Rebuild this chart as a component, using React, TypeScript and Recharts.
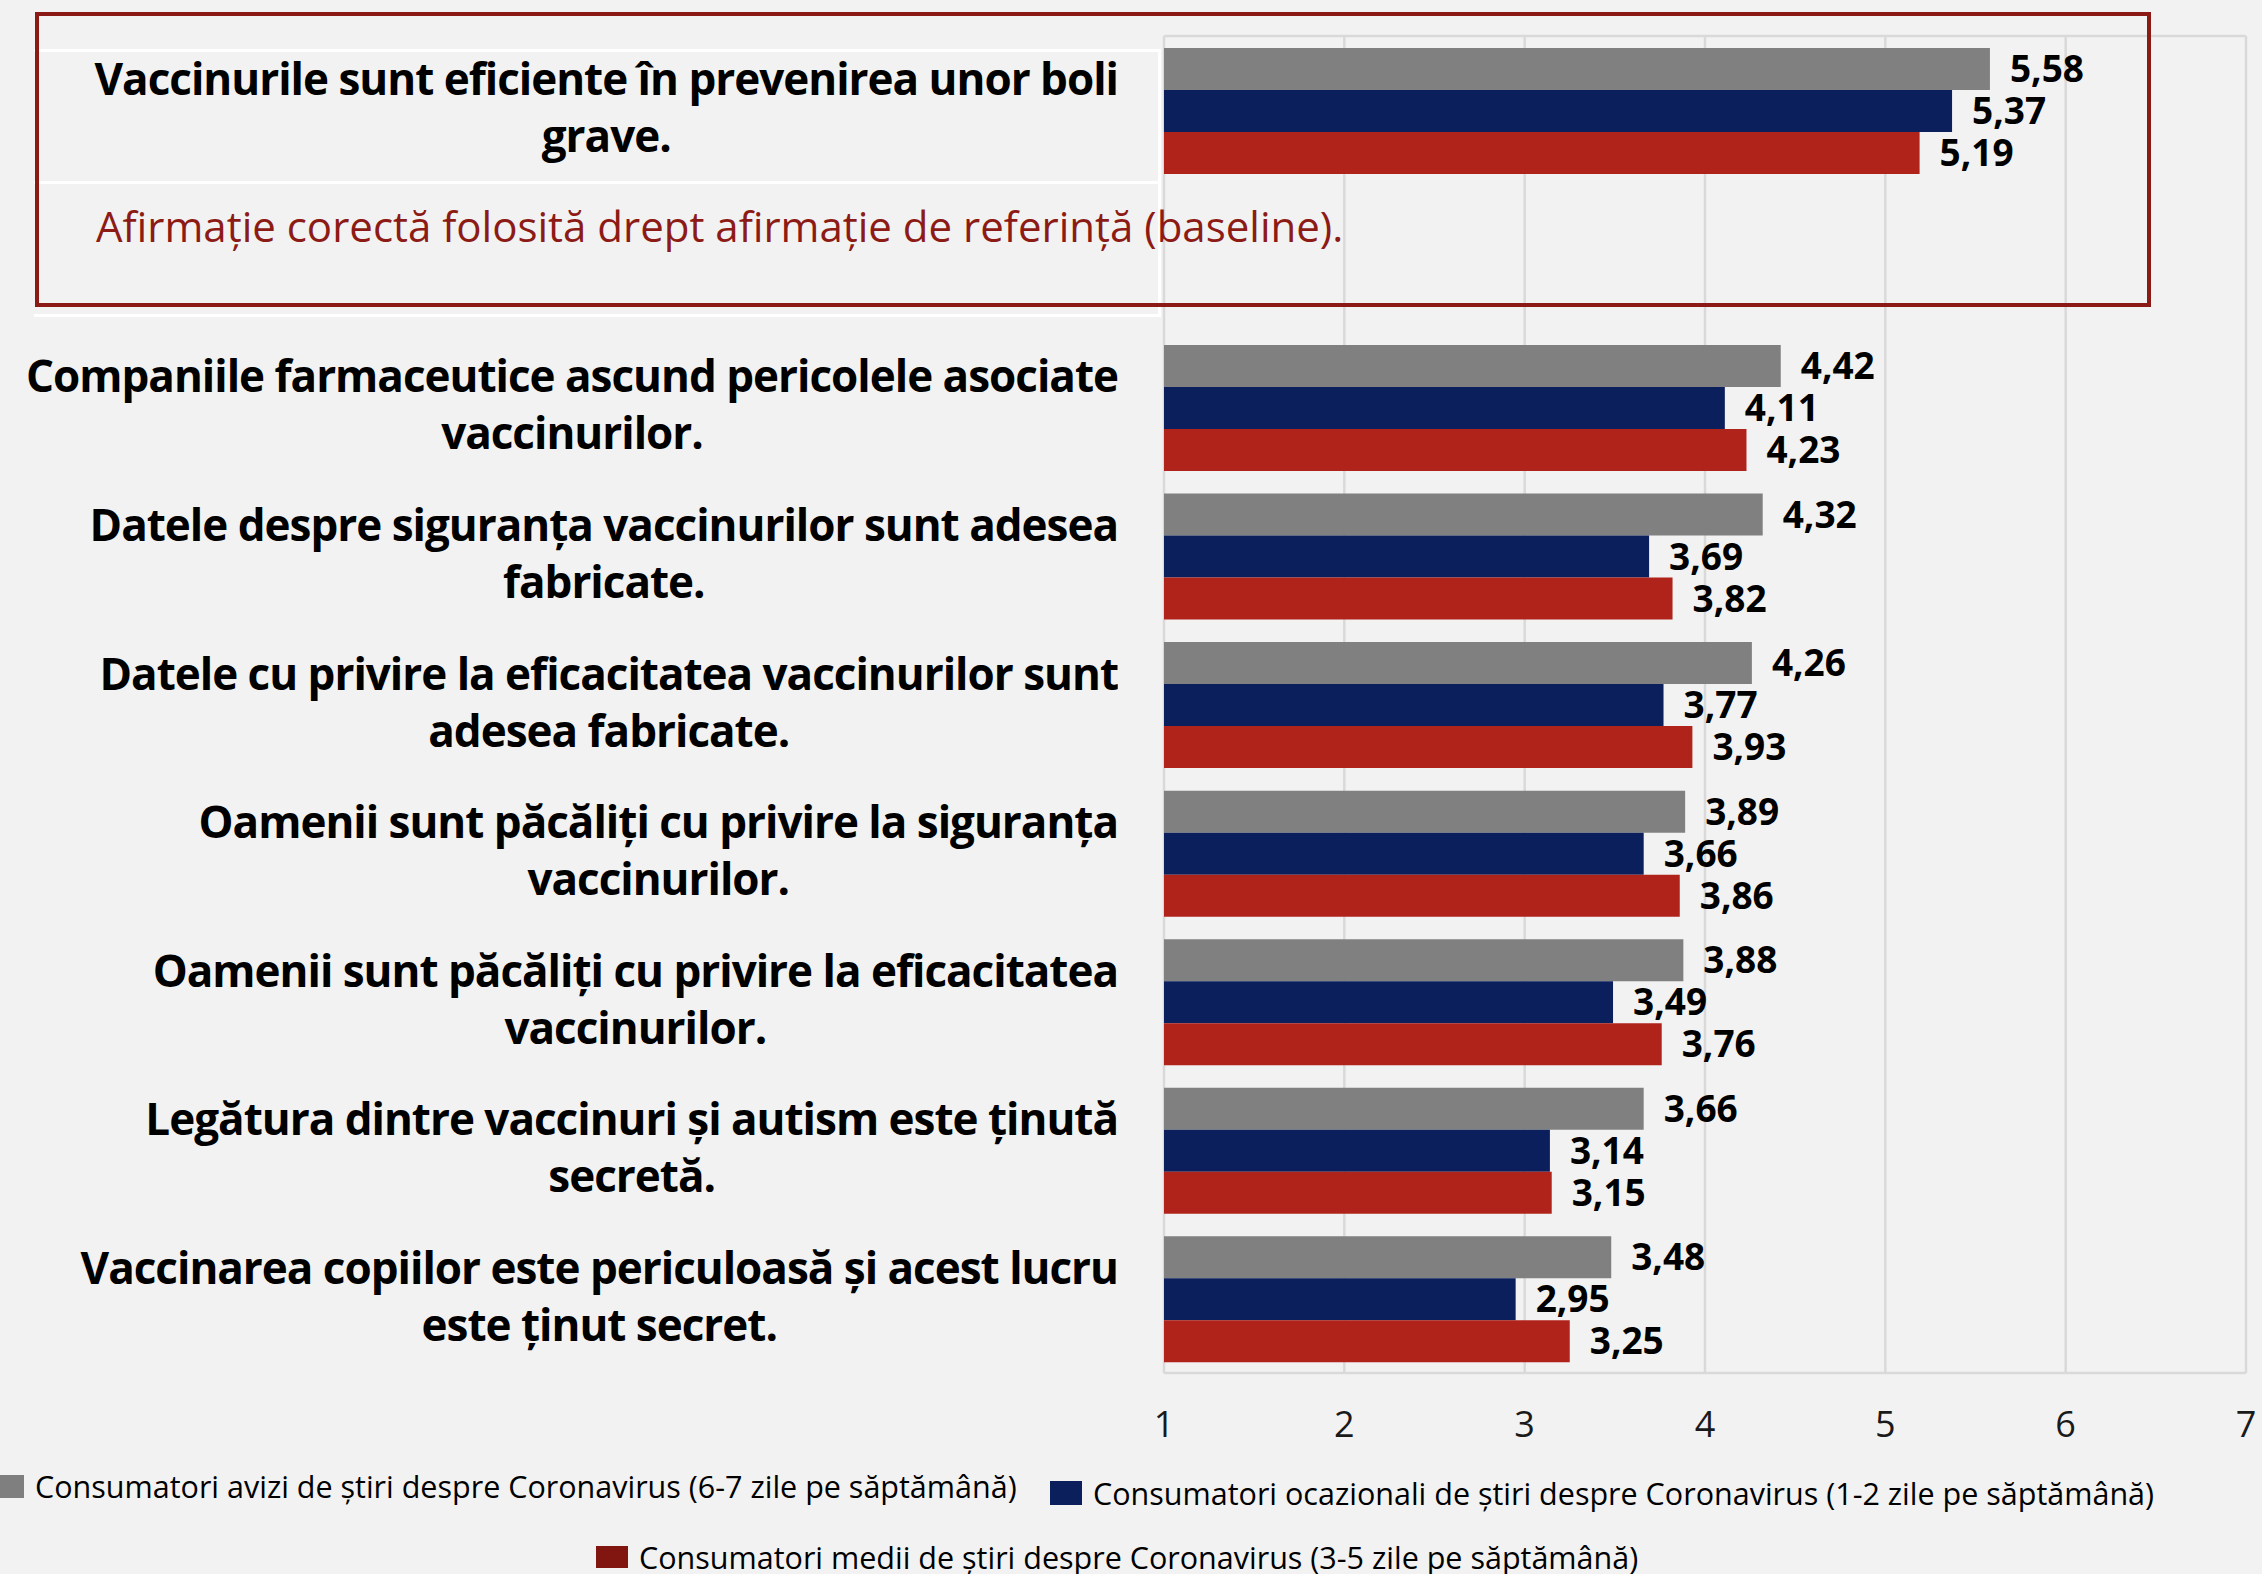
import React from 'react';
import { BarChart, Bar, XAxis, YAxis, CartesianGrid, LabelList } from 'recharts';

const categories: string[] = [
  'Vaccinurile sunt eficiente în prevenirea unor boli\ngrave.',
  '',
  'Companiile farmaceutice ascund pericolele asociate\nvaccinurilor.',
  'Datele despre siguranța vaccinurilor sunt adesea\nfabricate.',
  'Datele cu privire la eficacitatea vaccinurilor sunt\nadesea fabricate.',
  'Oamenii sunt păcăliți cu privire la siguranța\nvaccinurilor.',
  'Oamenii sunt păcăliți cu privire la eficacitatea\nvaccinurilor.',
  'Legătura dintre vaccinuri și autism este ținută\nsecretă.',
  'Vaccinarea copiilor este periculoasă și acest lucru\neste ținut secret.',
];
const baselineNote = 'Afirmație corectă folosită drept afirmație de referință (baseline).';

const avizi: (number | null)[] = [5.58, null, 4.42, 4.32, 4.26, 3.89, 3.88, 3.66, 3.48];
const ocazionali: (number | null)[] = [5.37, null, 4.11, 3.69, 3.77, 3.66, 3.49, 3.14, 2.95];
const medii: (number | null)[] = [5.19, null, 4.23, 3.82, 3.93, 3.86, 3.76, 3.15, 3.25];

const xTicks = [1, 2, 3, 4, 5, 6, 7];

const seriesNames = [
  'Consumatori avizi de știri despre Coronavirus (6-7 zile pe săptămână)',
  'Consumatori ocazionali de știri despre Coronavirus (1-2 zile pe săptămână)',
  'Consumatori medii de știri despre Coronavirus (3-5 zile pe săptămână)',
];
const barColors = ['#808080', '#0a1f5c', '#b0231a'];
const legendColors = ['#7f7f7f', '#0a1f5c', '#80160f'];

const data = categories.map((c, i) => ({
  key: 'c' + i,
  avizi: avizi[i],
  ocazionali: ocazionali[i],
  medii: medii[i],
}));

const FONT = '"Open Sans", sans-serif';

const fmt = (v: any) => (v == null ? '' : Number(v).toFixed(2).replace('.', ','));

const CategoryTick = (props: any) => {
  const { y } = props;
  const index = props.index ?? props.payload?.index ?? 0;
  if (index === 1) {
    return (
      <text x={96} y={y - 17} fill="#8c1b15" fontSize={42} fontFamily={FONT}>
        {baselineNote}
      </text>
    );
  }
  const label = categories[index];
  return (
    <foreignObject x={0} y={y - 73} width={1118} height={140}>
      <div
        style={{
          width: 1118,
          height: 140,
          display: 'flex',
          alignItems: 'center',
          justifyContent: 'flex-end',
        }}
      >
        <div
          style={{
            textAlign: 'center',
            whiteSpace: 'pre',
            fontFamily: FONT,
            fontWeight: 700,
            fontSize: 44,
            letterSpacing: '-1px',
            lineHeight: '57px',
            color: '#000',
          }}
        >
          {label}
        </div>
      </div>
    </foreignObject>
  );
};

const legendItems = [
  { i: 0, left: -7, center: 1486, sq: [31, 23] },
  { i: 1, left: 1050, center: 1493, sq: [32, 24] },
  { i: 2, left: 596, center: 1557, sq: [32, 22] },
];

export default function App() {
  return (
    <div
      style={{
        position: 'absolute',
        left: 0,
        top: 0,
        width: 2262,
        height: 1574,
        background: '#f2f2f2',
        overflow: 'hidden',
        fontFamily: FONT,
      }}
    >
      {/* faint white cell lines */}
      <div style={{ position: 'absolute', left: 34, top: 49, width: 1126, height: 3, background: '#ffffff' }} />
      <div style={{ position: 'absolute', left: 34, top: 181, width: 1126, height: 3, background: '#ffffff' }} />
      <div style={{ position: 'absolute', left: 34, top: 314, width: 1126, height: 3, background: '#ffffff' }} />
      <div style={{ position: 'absolute', left: 1158, top: 49, width: 3, height: 268, background: '#ffffff' }} />

      <div style={{ position: 'absolute', left: 0, top: 0 }}>
        <BarChart
          width={2262}
          height={1574}
          data={data}
          layout="vertical"
          margin={{ top: 36, right: 16, bottom: 141, left: 0 }}
          barCategoryGap="8%"
          barGap={0}
        >
          <CartesianGrid
            stroke="#d9d9d9"
            strokeWidth={2.5}
            horizontalCoordinatesGenerator={({ offset }: any) => [offset.top, offset.top + offset.height]}
          />
          <XAxis
            type="number"
            domain={[1, 7]}
            ticks={xTicks}
            axisLine={false}
            tickLine={false}
            tickSize={0}
            tickMargin={38}
            height={60}
            tick={{ fontSize: 36, fill: '#1a1a1a', fontFamily: FONT }}
            allowDataOverflow
          />
          <YAxis
            type="category"
            dataKey="key"
            width={1164}
            axisLine={false}
            tickLine={false}
            tickSize={0}
            tickMargin={0}
            interval={0}
            tick={<CategoryTick />}
          />
          <Bar dataKey="avizi" fill={barColors[0]} isAnimationActive={false}>
            <LabelList dataKey="avizi" position="right" offset={20} formatter={fmt} fill="#000" fontSize={37} fontWeight={700} fontFamily={FONT} />
          </Bar>
          <Bar dataKey="ocazionali" fill={barColors[1]} isAnimationActive={false}>
            <LabelList dataKey="ocazionali" position="right" offset={20} formatter={fmt} fill="#000" fontSize={37} fontWeight={700} fontFamily={FONT} />
          </Bar>
          <Bar dataKey="medii" fill={barColors[2]} isAnimationActive={false}>
            <LabelList dataKey="medii" position="right" offset={20} formatter={fmt} fill="#000" fontSize={37} fontWeight={700} fontFamily={FONT} />
          </Bar>
        </BarChart>
      </div>

      {/* highlight box around the baseline statement */}
      <div
        style={{
          position: 'absolute',
          left: 35,
          top: 12,
          width: 2116,
          height: 295,
          boxSizing: 'border-box',
          border: '4px solid #8b1a17',
          pointerEvents: 'none',
        }}
      />

      {/* legend */}
      {legendItems.map((it) => (
        <div
          key={it.i}
          style={{
            position: 'absolute',
            left: it.left,
            top: it.center - 17,
            height: 34,
            display: 'flex',
            alignItems: 'center',
            whiteSpace: 'nowrap',
          }}
        >
          <div style={{ width: it.sq[0], height: it.sq[1], background: legendColors[it.i], marginRight: 11 }} />
          <span style={{ fontSize: 30.5, lineHeight: '34px', color: '#000', fontFamily: FONT }}>{seriesNames[it.i]}</span>
        </div>
      ))}
    </div>
  );
}
